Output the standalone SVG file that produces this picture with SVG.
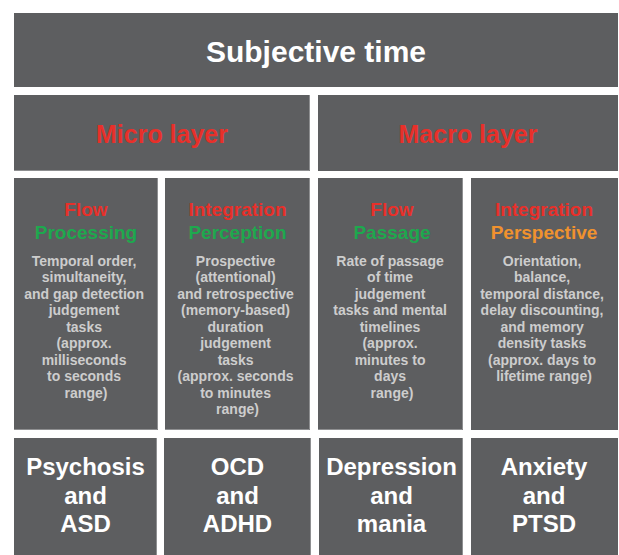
<svg xmlns="http://www.w3.org/2000/svg" width="619" height="555" viewBox="0 0 619 555">
<style>
.box{fill:#5d5e60}
.edge{stroke:#8e8f91;stroke-width:1;fill:none}
text{font-family:"Liberation Sans",Arial,Helvetica,sans-serif;font-weight:bold;text-anchor:middle}
.title{fill:#ffffff;font-size:30px}
.layer{fill:#e8302a;font-size:25px}
.red{fill:#e8302a;font-size:19px}
.green{fill:#1ea84e;font-size:19px}
.orange{fill:#f0922e;font-size:19px}
.body{fill:#cdcdcd;font-size:14px}
.dis{fill:#ffffff;font-size:24px}
</style>
<rect width="619" height="555" fill="#ffffff"/>
<g id="subjective-time">
<rect class="box" x="14" y="13" width="604" height="74"/>
<text class="title" x="316" y="62">Subjective time</text>
</g>
<g id="micro-layer">
<rect class="box" x="14" y="95" width="296" height="76"/>
<path class="edge" d="M309.5,95 V170.5 H14"/>
<text class="layer" x="162" y="143">Micro layer</text>
</g>
<g id="macro-layer">
<rect class="box" x="318" y="95" width="300" height="76"/>
<text class="layer" x="468" y="143">Macro layer</text>
</g>
<g id="flow-processing">
<rect class="box" x="14" y="178" width="144" height="252"/>
<path class="edge" d="M157.5,178 V429.5 H14"/>
<text class="red" x="86" y="216">Flow</text>
<text class="green" x="86" y="238.5">Processing</text>
<text class="body" x="86" y="265.7">Temporal order,
<tspan x="86" dy="16.5">simultaneity,</tspan>
<tspan x="86" dy="16.5">and gap detection</tspan>
<tspan x="86" dy="16.5">judgement</tspan>
<tspan x="86" dy="16.5">tasks</tspan>
<tspan x="86" dy="16.5">(approx.</tspan>
<tspan x="86" dy="16.5">milliseconds</tspan>
<tspan x="86" dy="16.5">to seconds</tspan>
<tspan x="86" dy="16.5">range)</tspan></text>
</g>
<g id="integration-perception">
<rect class="box" x="165" y="178" width="145" height="252"/>
<path class="edge" d="M309.5,178 V429.5 H165"/>
<text class="red" x="237.5" y="216">Integration</text>
<text class="green" x="237.5" y="238.5">Perception</text>
<text class="body" x="237.5" y="265.7">Prospective
<tspan x="237.5" dy="16.5">(attentional)</tspan>
<tspan x="237.5" dy="16.5">and retrospective</tspan>
<tspan x="237.5" dy="16.5">(memory-based)</tspan>
<tspan x="237.5" dy="16.5">duration</tspan>
<tspan x="237.5" dy="16.5">judgement</tspan>
<tspan x="237.5" dy="16.5">tasks</tspan>
<tspan x="237.5" dy="16.5">(approx. seconds</tspan>
<tspan x="237.5" dy="16.5">to minutes</tspan>
<tspan x="237.5" dy="16.5">range)</tspan></text>
</g>
<g id="flow-passage">
<rect class="box" x="318" y="178" width="145" height="252"/>
<path class="edge" d="M462.5,178 V429.5 H318"/>
<text class="red" x="392" y="216">Flow</text>
<text class="green" x="392" y="238.5">Passage</text>
<text class="body" x="392" y="265.7">Rate of passage
<tspan x="392" dy="16.5">of time</tspan>
<tspan x="392" dy="16.5">judgement</tspan>
<tspan x="392" dy="16.5">tasks and mental</tspan>
<tspan x="392" dy="16.5">timelines</tspan>
<tspan x="392" dy="16.5">(approx.</tspan>
<tspan x="392" dy="16.5">minutes to</tspan>
<tspan x="392" dy="16.5">days</tspan>
<tspan x="392" dy="16.5">range)</tspan></text>
</g>
<g id="integration-perspective">
<rect class="box" x="471" y="178" width="147" height="252"/>
<text class="red" x="544" y="216">Integration</text>
<text class="orange" x="544" y="238.5">Perspective</text>
<text class="body" x="544" y="265.7">Orientation,
<tspan x="544" dy="16.5">balance,</tspan>
<tspan x="544" dy="16.5">temporal distance,</tspan>
<tspan x="544" dy="16.5">delay discounting,</tspan>
<tspan x="544" dy="16.5">and memory</tspan>
<tspan x="544" dy="16.5">density tasks</tspan>
<tspan x="544" dy="16.5">(approx. days to</tspan>
<tspan x="544" dy="16.5">lifetime range)</tspan></text>
</g>
<g id="psychosis-asd">
<rect class="box" x="14" y="438" width="143" height="117"/>
<path class="edge" d="M156.5,438 V555"/>
<text class="dis" x="85.5" y="475">Psychosis<tspan x="85.5" dy="28.5">and</tspan><tspan x="85.5" dy="28.5">ASD</tspan></text>
</g>
<g id="ocd-adhd">
<rect class="box" x="164" y="438" width="147" height="117"/>
<path class="edge" d="M310.5,438 V555"/>
<text class="dis" x="237.5" y="475">OCD<tspan x="237.5" dy="28.5">and</tspan><tspan x="237.5" dy="28.5">ADHD</tspan></text>
</g>
<g id="depression-mania">
<rect class="box" x="319" y="438" width="144" height="117"/>
<path class="edge" d="M462.5,438 V555"/>
<text class="dis" x="391.5" y="475">Depression<tspan x="391.5" dy="28.5">and</tspan><tspan x="391.5" dy="28.5">mania</tspan></text>
</g>
<g id="anxiety-ptsd">
<rect class="box" x="471" y="438" width="147" height="117"/>
<text class="dis" x="544" y="475">Anxiety<tspan x="544" dy="28.5">and</tspan><tspan x="544" dy="28.5">PTSD</tspan></text>
</g>
<g id="connectors"></g>
</svg>
